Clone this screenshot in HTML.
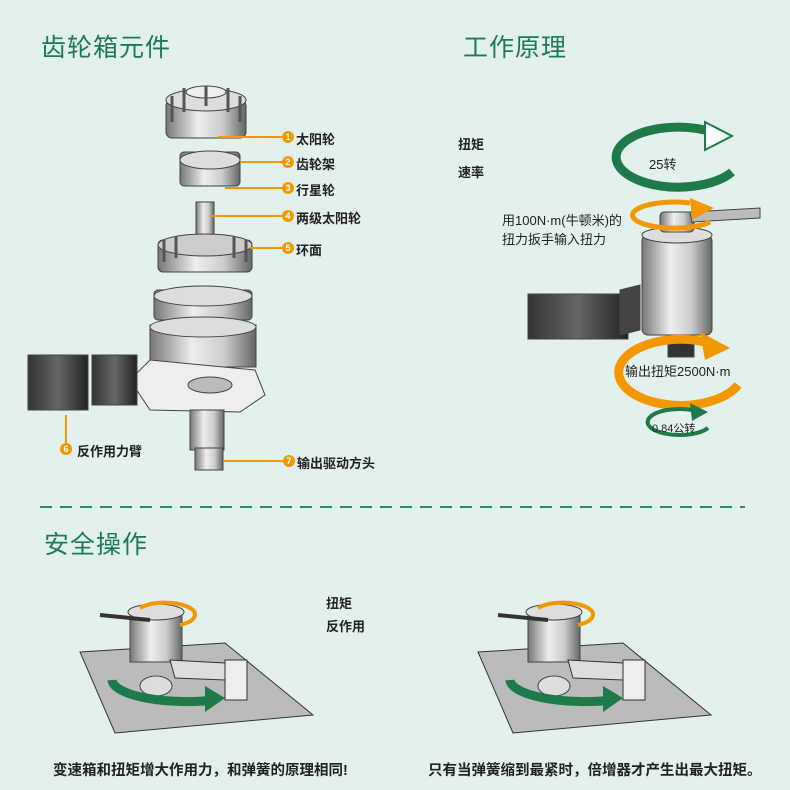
<!DOCTYPE html>
<html><head><meta charset="utf-8"><style>
body{margin:0;width:790px;height:790px;background:#e3f1ee;position:relative;overflow:hidden;font-family:"Liberation Sans","Noto Sans CJK SC",sans-serif}
.t{position:absolute;color:#1d7a58;font-size:25px;letter-spacing:1px}
.l{position:absolute;font-size:13px;font-weight:bold;color:#222;white-space:nowrap}
</style></head><body>
<div class="t" style="left:41px;top:28px">齿轮箱元件</div>
<div class="t" style="left:463px;top:28px">工作原理</div>
<div class="t" style="left:44px;top:525px">安全操作</div>
<svg width="790" height="790" style="position:absolute;left:0;top:0">
<defs>
<linearGradient id="m" x1="0" x2="1"><stop offset="0" stop-color="#777"/><stop offset=".4" stop-color="#eee"/><stop offset=".7" stop-color="#ccc"/><stop offset="1" stop-color="#666"/></linearGradient>
<linearGradient id="d" x1="0" x2="1"><stop offset="0" stop-color="#333"/><stop offset=".5" stop-color="#666"/><stop offset="1" stop-color="#222"/></linearGradient>
</defs>
<line x1="40" y1="507" x2="745" y2="507" stroke="#2a8a6a" stroke-width="2" stroke-dasharray="12,8"/>
<g stroke="#444" stroke-width="1">
<rect x="166" y="100" width="80" height="38" rx="6" fill="url(#m)"/>
<ellipse cx="206" cy="100" rx="40" ry="11" fill="#ddd"/>
<ellipse cx="206" cy="92" rx="20" ry="6" fill="#eee"/>
<g stroke="#555" stroke-width="3"><path d="M172 96V122M184 88V112M228 88V112M240 96V122M206 86V106"/></g>
<rect x="180" y="152" width="60" height="34" rx="4" fill="url(#m)"/>
<ellipse cx="210" cy="160" rx="30" ry="9" fill="#ddd"/>
<rect x="196" y="202" width="18" height="38" fill="url(#m)"/>
<rect x="158" y="240" width="94" height="32" rx="5" fill="url(#m)"/>
<ellipse cx="205" cy="245" rx="47" ry="11" fill="#ccc"/>
<g stroke="#555" stroke-width="3"><path d="M164 240V262M176 236V258M234 236V258M246 240V262"/></g>
<rect x="154" y="290" width="98" height="30" rx="4" fill="url(#m)"/>
<ellipse cx="203" cy="296" rx="49" ry="10" fill="#ddd"/>
<rect x="150" y="325" width="106" height="42" fill="url(#m)"/>
<ellipse cx="203" cy="327" rx="53" ry="10" fill="#ddd"/>
<path d="M130 380 L150 360 L255 370 L265 395 L240 412 L150 410 Z" fill="#eee"/>
<ellipse cx="210" cy="385" rx="22" ry="8" fill="#bbb"/>
<rect x="28" y="355" width="60" height="55" fill="url(#d)"/>
<rect x="92" y="355" width="45" height="50" fill="url(#d)"/>
<rect x="190" y="410" width="34" height="40" fill="url(#m)"/>
<rect x="195" y="448" width="28" height="22" fill="url(#m)"/>
</g>
<g stroke="#f39800" stroke-width="2" fill="none">
<path d="M218 137 H283 M240 162 H283 M225 188 H283 M212 216 H283 M250 248 H283"/>
<path d="M66 415 V449 M223 461 H283"/>
</g>
<g fill="#f39800">
<circle cx="288" cy="137" r="6"/><circle cx="288" cy="162" r="6"/><circle cx="288" cy="188" r="6"/><circle cx="288" cy="216" r="6"/><circle cx="288" cy="248" r="6"/><circle cx="66" cy="449" r="6"/><circle cx="289" cy="461" r="6"/>
</g>
<g fill="#fff" font-size="9" font-weight="bold" text-anchor="middle">
<text x="288" y="140">1</text><text x="288" y="165">2</text><text x="288" y="191">3</text><text x="288" y="219">4</text><text x="288" y="251">5</text><text x="66" y="452">6</text><text x="289" y="464">7</text>
</g>
<path d="M712 132 A62 30 0 1 0 732 172" fill="none" stroke="#1f7a4a" stroke-width="9"/>
<path d="M705 122 L732 136 L705 150 Z" fill="#fff" stroke="#1f7a4a" stroke-width="2"/>
<g stroke="#444">
<rect x="528" y="294" width="100" height="45" fill="url(#d)"/>
<path d="M620 290 L640 285 L640 330 L620 335Z" fill="#444"/>
<rect x="642" y="235" width="70" height="100" rx="6" fill="url(#m)"/>
<ellipse cx="677" cy="235" rx="35" ry="8" fill="#ddd"/>
<rect x="660" y="212" width="34" height="20" rx="4" fill="url(#m)"/>
<path d="M690 212 L760 208 L760 218 L692 222Z" fill="#bbb"/>
<rect x="668" y="335" width="26" height="22" fill="#333"/>
</g>
<path d="M690 203 A42 13 0 1 0 710 222" fill="none" stroke="#f39800" stroke-width="5"/>
<path d="M690 198 L714 208 L692 220Z" fill="#f39800"/>
<path d="M705 342 A62 33 0 1 0 738 385" fill="none" stroke="#f39800" stroke-width="9"/>
<path d="M700 332 L730 348 L705 360Z" fill="#f39800"/>
<path d="M692 410 A32 13 0 1 0 708 428" fill="none" stroke="#1f7a4a" stroke-width="4"/>
<path d="M690 403 L708 412 L692 421Z" fill="#1f7a4a"/>
<g id="s">
<path d="M80 652 L225 643 L313 715 L115 733 Z" fill="#bbb" stroke="#333"/>
<rect x="130" y="612" width="52" height="50" fill="url(#m)" stroke="#444"/>
<ellipse cx="156" cy="612" rx="28" ry="8" fill="#ddd" stroke="#444"/>
<ellipse cx="156" cy="686" rx="16" ry="10" fill="#ddd" stroke="#444"/>
<path d="M170 660 L225 663 L225 680 L175 678Z" fill="#ddd" stroke="#333"/>
<rect x="225" y="660" width="22" height="40" fill="#eee" stroke="#333"/>
<path d="M100 615 L150 620" stroke="#333" stroke-width="4"/>
<path d="M180 625 A30 12 0 1 0 140 608" fill="none" stroke="#f39800" stroke-width="4"/>
<path d="M215 700 A75 22 0 0 1 112 680" fill="none" stroke="#1f7a4a" stroke-width="9"/>
<path d="M205 686 L225 698 L205 712Z" fill="#1f7a4a"/>
</g>
<use href="#s" x="398" y="0"/>
</svg>
<div class="l" style="left:296px;top:129px">太阳轮</div>
<div class="l" style="left:296px;top:154px">齿轮架</div>
<div class="l" style="left:296px;top:180px">行星轮</div>
<div class="l" style="left:296px;top:208px">两级太阳轮</div>
<div class="l" style="left:296px;top:240px">环面</div>
<div class="l" style="left:77px;top:441px">反作用力臂</div>
<div class="l" style="left:297px;top:453px">输出驱动方头</div>
<div class="l" style="left:458px;top:134px">扭矩</div>
<div class="l" style="left:458px;top:162px">速率</div>
<div class="l" style="left:649px;top:154px;font-weight:normal">25转</div>
<div class="l" style="left:502px;top:210px;font-weight:normal">用100N·m(牛顿米)的<br>扭力扳手输入扭力</div>
<div class="l" style="left:625px;top:361px;font-weight:normal">输出扭矩2500N·m</div>
<div class="l" style="left:652px;top:420px;font-size:11px;font-weight:normal">0.84公转</div>
<div class="l" style="left:326px;top:593px">扭矩</div>
<div class="l" style="left:326px;top:616px">反作用</div>
<div class="l" style="left:53px;top:759px;font-size:14.5px">变速箱和扭矩增大作用力，和弹簧的原理相同!</div>
<div class="l" style="left:428px;top:759px;font-size:14.5px">只有当弹簧缩到最紧时，倍增器才产生出最大扭矩。</div>
</body></html>
